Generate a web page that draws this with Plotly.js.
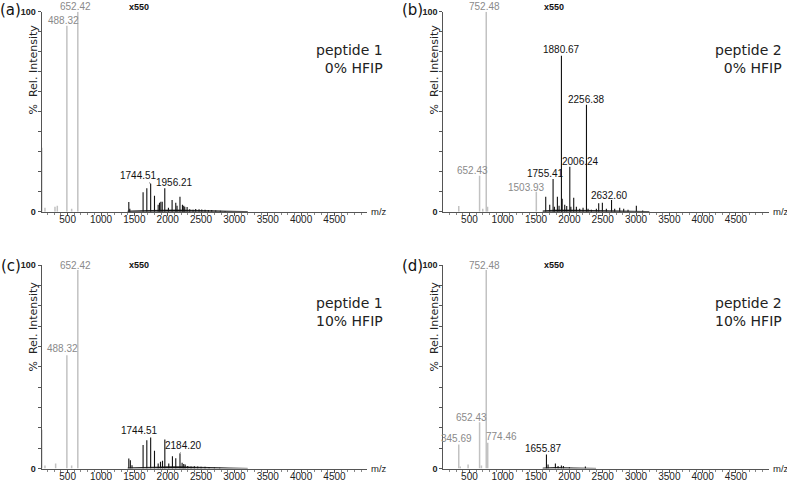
<!DOCTYPE html>
<html>
<head>
<meta charset="utf-8">
<script src="https://cdn.plot.ly/plotly-3.0.1.min.js"></script>
<style>html,body{margin:0;padding:0;background:#fff;}#chart{width:787px;height:481px;}</style>
</head>
<body>
<div id="chart"></div>
<script>
// ---------- DATA (m/z, % relative intensity) ----------
// Panel (a): peptide 1, 0% HFIP
const grayA_mz  = [112, 160, 310, 345, 488.32, 560, 652.42];
const grayA_int = [32, 2, 2.5, 3, 93, 1.5, 100];
const blackA_mz  = [1417, 1432, 1631, 1687, 1744.51, 1802, 1857, 1877, 1897, 1918, 1956.21, 2011, 2066, 2121, 2140, 2184, 2221, 2240, 2256, 2291, 2330, 2380, 2420, 2470, 2510, 2560, 2610, 2660, 2720, 2790, 2860];
const blackA_int = [4.8, 1.5, 9.7, 11.7, 14, 8, 3.5, 4.5, 5, 5, 11.7, 2, 5.8, 4.5, 3, 7.5, 3.5, 3, 2.5, 2.3, 1.2, 1, 1.3, 1.2, 1.1, 1, 0.9, 0.8, 0.6, 0.5, 0.4];
const noiseA_mz  = [1400, 1500, 1600, 1800, 2000, 2200, 2400, 2600, 2800, 3000, 3200];
const noiseA_int = [0.3, 0.4, 0.6, 0.8, 0.8, 0.8, 0.6, 0.45, 0.35, 0.2, 0.05];
const labelsA_mz   = [488.32, 652.42, 1744.51, 1956.21];
const labelsA_int  = [93, 100, 14, 11.7];
const labelsA_text = ["488.32", "652.42", "1744.51", "1956.21"];

// Panel (b): peptide 2, 0% HFIP
const grayB_mz  = [340, 652.43, 700, 752.48, 772, 1503.93];
const grayB_int = [2.8, 18, 1.5, 100, 2.5, 10];
const blackB_mz  = [1645, 1705, 1755.41, 1775, 1820, 1845, 1880.67, 1892, 1930, 1960, 2006.24, 2022, 2065, 2105, 2155, 2205, 2256.38, 2280, 2330, 2405, 2440, 2495, 2555, 2632.60, 2680, 2755, 2815, 2880, 3005, 3100];
const blackB_int = [7.5, 3.5, 16.3, 2.5, 7.5, 3, 78, 6.5, 3.5, 2.8, 22.5, 2.5, 7, 2.5, 1.5, 2, 53.5, 1.5, 1, 1.5, 4.2, 4.5, 1.5, 5.8, 1.5, 2, 1.5, 1, 3, 0.6];
const noiseB_mz  = [1600, 1700, 1800, 2000, 2200, 2400, 2600, 2800, 3000, 3200];
const noiseB_int = [0.4, 0.6, 0.8, 0.8, 0.8, 0.6, 0.45, 0.35, 0.2, 0.05];
const labelsB_mz   = [652.43, 752.48, 1503.93, 1755.41, 1880.67, 2006.24, 2256.38, 2632.60];
const labelsB_int  = [18, 100, 10, 16.3, 78, 22.5, 53.5, 5.8];
const labelsB_text = ["652.43", "752.48", "1503.93", "1755.41", "1880.67", "2006.24", "2256.38", "2632.60"];

// Panel (c): peptide 1, 10% HFIP
const grayC_mz  = [112, 160, 320, 488.32, 560, 652.42];
const grayC_int = [19, 1.5, 2.5, 55.7, 1.5, 97.5];
const blackC_mz  = [1417, 1440, 1465, 1631, 1687, 1744.51, 1802, 1857, 1892, 1922, 1957, 2016, 2071, 2121, 2184.20, 2216, 2240, 2262, 2300, 2350, 2400, 2450, 2500, 2560, 2620, 2700, 2780];
const blackC_int = [4.9, 4, 1.6, 11.5, 13.9, 15.2, 8.7, 2.5, 3.3, 3.8, 14.3, 2.5, 6, 5, 7.4, 2.8, 2.2, 2, 1.2, 1, 1.1, 1, 0.9, 0.8, 0.7, 0.5, 0.4];
const noiseC_mz  = [1400, 1500, 1600, 1800, 2000, 2200, 2400, 2600, 2800, 3000, 3200];
const noiseC_int = [0.3, 0.4, 0.6, 0.8, 0.8, 0.8, 0.6, 0.45, 0.35, 0.2, 0.05];
const labelsC_mz   = [488.32, 652.42, 1744.51, 2184.20];
const labelsC_int  = [55.7, 97.5, 15.2, 7.4];
const labelsC_text = ["488.32", "652.42", "1744.51", "2184.20"];

// Panel (d): peptide 2, 10% HFIP
const grayD_mz  = [340, 362, 480, 652.43, 680, 752.48, 774.46];
const grayD_int = [11.8, 1, 2, 22.7, 1.5, 97.5, 12.6];
const blackD_mz  = [1655.87, 1680, 1790, 1830, 1880, 1910, 2000, 2240];
const blackD_int = [6.9, 2, 2.5, 1.2, 1.5, 1.2, 0.6, 1];
const noiseD_mz  = [1600, 1700, 1800, 1900, 2000, 2200, 2400];
const noiseD_int = [0.2, 0.5, 0.5, 0.4, 0.3, 0.2, 0.05];
const labelsD_mz   = [345.69, 652.43, 752.48, 774.46, 1655.87];
const labelsD_int  = [11.8, 22.7, 97.5, 12.6, 6.9];
const labelsD_text = ["345.69", "652.43", "752.48", "774.46", "1655.87"];

const xTickVals = [500, 1000, 1500, 2000, 2500, 3000, 3500, 4000, 4500];
const yTickVals = [0, 10, 20, 30, 40, 50, 60, 70, 80, 90, 100];
const yTickText = ["0", "", "", "", "", "", "", "", "", "", "100"];

// ---------- STYLE / LAYOUT ----------
const W = 787, H = 481;
const PX = x => x / W;
const PY = y => 1 - y / H;
const GRAY = '#c2c2c2', GRAYTXT = '#8a8a8a', BLACK = '#111111';

function sticks(mz, inten) {
  const x = [], y = [];
  for (let i = 0; i < mz.length; i++) { x.push(mz[i], mz[i], null); y.push(0, inten[i], null); }
  return {x, y};
}
function stickTrace(mz, inten, color, width, ax) {
  const s = sticks(mz, inten);
  return {type: 'scatter', mode: 'lines', x: s.x, y: s.y, xaxis: 'x' + ax, yaxis: 'y' + ax,
          line: {color, width}, hoverinfo: 'skip', showlegend: false};
}
function noiseTrace(mz, inten, ax) {
  return {type: 'scatter', mode: 'lines', x: mz, y: inten, xaxis: 'x' + ax, yaxis: 'y' + ax,
          fill: 'tozeroy', fillcolor: BLACK, line: {color: BLACK, width: 0.8},
          hoverinfo: 'skip', showlegend: false};
}

const traces = [
  stickTrace(grayA_mz, grayA_int, GRAY, 1.5, ''), noiseTrace(noiseA_mz, noiseA_int, ''), stickTrace(blackA_mz, blackA_int, BLACK, 1.1, ''),
  stickTrace(grayB_mz, grayB_int, GRAY, 1.5, '2'), noiseTrace(noiseB_mz, noiseB_int, '2'), stickTrace(blackB_mz, blackB_int, BLACK, 1.1, '2'),
  stickTrace(grayC_mz, grayC_int, GRAY, 1.5, '3'), noiseTrace(noiseC_mz, noiseC_int, '3'), stickTrace(blackC_mz, blackC_int, BLACK, 1.1, '3'),
  stickTrace(grayD_mz, grayD_int, GRAY, 1.5, '4'), noiseTrace(noiseD_mz, noiseD_int, '4'), stickTrace(blackD_mz, blackD_int, BLACK, 1.1, '4'),
];

const xL = [PX(41.5), PX(367)], xR = [PX(443.3), PX(768.5)];
const yT = [PY(211.7), PY(11.7)], yB = [PY(468.5), PY(265)];

function xAxis(domain, anchor) {
  return {domain, anchor, range: [108, 4988], tickvals: xTickVals, showline: true, linecolor: '#555', linewidth: 1,
          ticks: 'outside', ticklen: 3, tickcolor: '#555', showgrid: false, zeroline: false,
          ticklabelstandoff: -5,
          tickfont: {family: 'Liberation Sans, Arial, sans-serif', size: 10, color: '#222'},
          minor: {ticks: 'outside', ticklen: 2, tick0: 0, dtick: 100, tickcolor: '#888', showgrid: false},
          fixedrange: true};
}
function yAxis(domain, anchor) {
  return {domain, anchor, range: [0, 100], tickvals: yTickVals, ticktext: yTickText, showline: true, linecolor: '#555', linewidth: 1,
          ticks: 'outside', ticklen: 3, tickcolor: '#555', showgrid: false, zeroline: false,
          tickfont: {family: 'Liberation Sans, Arial, sans-serif', size: 9, color: '#222', weight: 'bold'},
          fixedrange: true};
}

const annotations = [];
function addText(x, y, text, font, extra) {
  annotations.push(Object.assign({xref: 'paper', yref: 'paper', x: PX(x), y: PY(y), text, showarrow: false, font,
                                  xanchor: 'center', yanchor: 'middle'}, extra || {}));
}
const fPanel = {family: 'DejaVu Sans, Verdana, sans-serif', size: 15, color: '#111'};
const fPep = {family: 'DejaVu Sans, Verdana, sans-serif', size: 14, color: '#222'};
const fYT = {family: 'DejaVu Sans, Verdana, sans-serif', size: 11, color: '#222'};
const fX550 = {family: 'Liberation Sans, Arial, sans-serif', size: 9, color: '#111', weight: 'bold'};
const fMZ = {family: 'Liberation Sans, Arial, sans-serif', size: 9.5, color: '#222'};

const panels = [
  {letter: '(a)', lx: 10.5, ly: 10, x550: [139, 7], pep: 'peptide 1<br>0% HFIP', px: 385, py: 59, yt: [32.5, 70], axisX: 367, axisY: 211.7},
  {letter: '(b)', lx: 412, ly: 10, x550: [553.5, 7], pep: 'peptide 2<br>0% HFIP', px: 784, py: 59, yt: [433.5, 70], axisX: 768.5, axisY: 211.7},
  {letter: '(c)', lx: 10.5, ly: 266, x550: [139, 265], pep: 'peptide 1<br>10% HFIP', px: 385, py: 312, yt: [32.5, 327], axisX: 367, axisY: 468.5},
  {letter: '(d)', lx: 412, ly: 266, x550: [553.5, 265], pep: 'peptide 2<br>10% HFIP', px: 784, py: 312, yt: [433.5, 327], axisX: 768.5, axisY: 468.5},
];
panels.forEach(p => {
  addText(p.lx, p.ly, p.letter, fPanel);
  addText(p.x550[0], p.x550[1], 'x550', fX550);
  addText(p.px, p.py, p.pep, fPep, {xanchor: 'right', align: 'right'});
  addText(p.yt[0], p.yt[1], '%  Rel. Intensity', fYT, {textangle: -90});
  addText(p.axisX + 2, p.axisY, 'm/z', fMZ, {xanchor: 'left'});
});

// peak label placement (pixel offsets of the label centre from the peak top)
const labelPlacement = {
  '': [{dx: -3, dy: 5}, {dx: -2.5, dy: 5}, {ax: -12, ay: -8}, {ax: 10, ay: -6}],
  '2': [{dx: -7, dy: 5}, {dx: -2, dy: 5}, {dx: -10, dy: 4}, {ax: -8, ay: -6}, {dx: 0, dy: 6}, {ax: 11, ay: -5}, {dx: 0, dy: 5}, {dx: -2, dy: 5}],
  '3': [{dx: -4, dy: 6.5}, {dx: -2.5, dy: 4.5}, {ax: -11, ay: -7}, {ax: 4, ay: -8}],
  '4': [{dx: -3, dy: 6}, {dx: -8.5, dy: 5}, {dx: -2, dy: 5}, {dx: 14, dy: 6}, {dx: -3, dy: 6}],
};
function addPeakLabels(mz, inten, texts, ax, blackFrom) {
  texts.forEach((t, i) => {
    const pl = labelPlacement[ax][i];
    const isBlack = mz[i] >= blackFrom;
    const font = {family: 'Liberation Sans, Arial, sans-serif', size: 10, color: isBlack ? BLACK : GRAYTXT};
    const a = {xref: 'x' + ax, yref: 'y' + ax, x: mz[i], y: inten[i], text: t, font};
    if (pl.ax !== undefined) {
      Object.assign(a, {showarrow: true, ax: pl.ax, ay: pl.ay, arrowhead: 0, arrowwidth: 0.7, arrowcolor: '#333', standoff: 0});
    } else {
      Object.assign(a, {showarrow: false, xshift: pl.dx, yshift: pl.dy, xanchor: 'center', yanchor: 'middle'});
    }
    annotations.push(a);
  });
}
addPeakLabels(labelsA_mz, labelsA_int, labelsA_text, '', 1400);
addPeakLabels(labelsB_mz, labelsB_int, labelsB_text, '2', 1600);
addPeakLabels(labelsC_mz, labelsC_int, labelsC_text, '3', 1400);
addPeakLabels(labelsD_mz, labelsD_int, labelsD_text, '4', 1600);

const layout = {
  width: W, height: H, margin: {l: 0, r: 0, t: 0, b: 0},
  paper_bgcolor: '#fff', plot_bgcolor: '#fff', showlegend: false,
  xaxis: xAxis(xL, 'y'), yaxis: yAxis(yT, 'x'),
  xaxis2: xAxis(xR, 'y2'), yaxis2: yAxis(yT, 'x2'),
  xaxis3: xAxis(xL, 'y3'), yaxis3: yAxis(yB, 'x3'),
  xaxis4: xAxis(xR, 'y4'), yaxis4: yAxis(yB, 'x4'),
  annotations,
};
Plotly.newPlot('chart', traces, layout, {staticPlot: true, displayModeBar: false});
</script>
</body>
</html>
